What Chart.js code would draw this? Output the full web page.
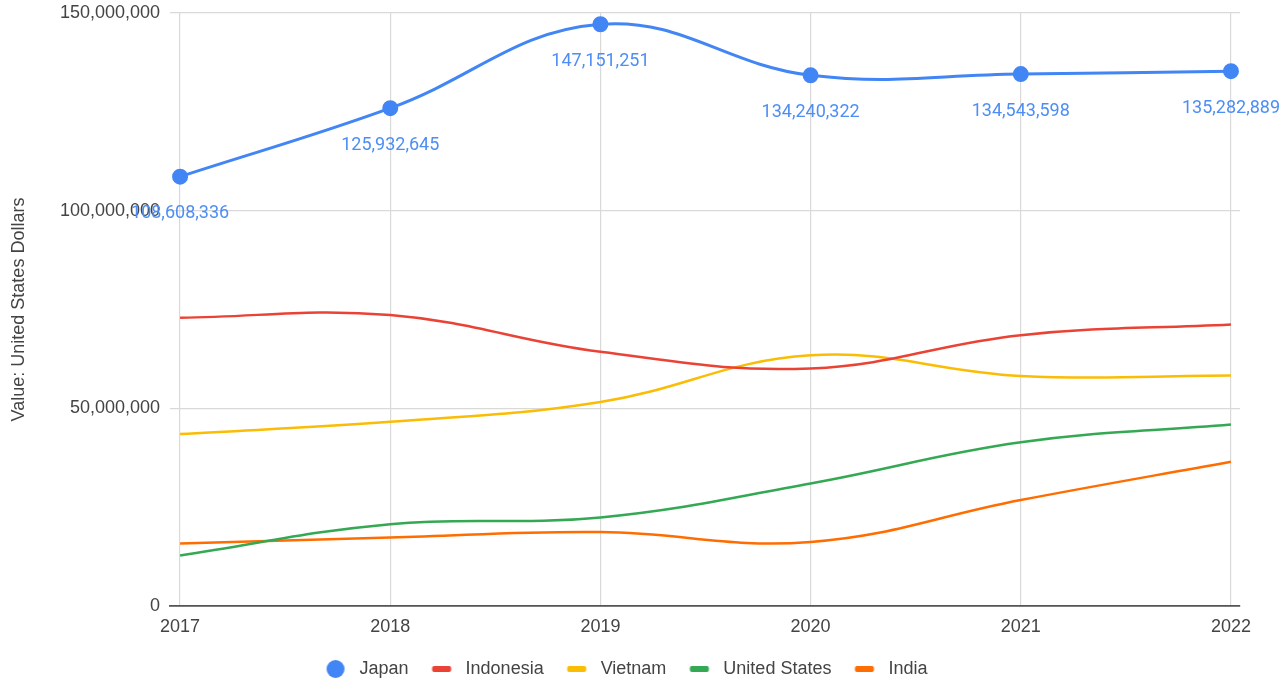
<!DOCTYPE html>
<html>
<head>
<meta charset="utf-8">
<script src="https://cdn.jsdelivr.net/npm/chart.js@4"></script>
<style>
html,body{margin:0;padding:0;background:#fff;}
#wrap{width:1285px;height:680px;}
</style>
</head>
<body>
<div id="wrap"><canvas id="c" width="1285" height="680"></canvas></div>
<script>
const years = [2017, 2018, 2019, 2020, 2021, 2022];
const seriesNames = ['Japan', 'Indonesia', 'Vietnam', 'United States', 'India'];
const japan = [108608336, 125932645, 147151251, 134240322, 134543598, 135282889];
const indonesia = [72900000, 73600000, 64300000, 60100000, 68500000, 71200000];
const vietnam = [43500000, 46600000, 51600000, 63400000, 58200000, 58300000];
const unitedStates = [12800000, 20700000, 22400000, 31000000, 41400000, 45900000];
const india = [15800000, 17300000, 18700000, 16200000, 26800000, 36500000];
const yTicks = [0, 50000000, 100000000, 150000000];
const colors = ['#4285F4', '#EA4335', '#FBBC04', '#34A853', '#FF6D01'];
const seriesValues = [japan, indonesia, vietnam, unitedStates, india];

const AXIS_FONT = "'Liberation Sans', Arial, sans-serif";
const fmt = v => Number(v).toLocaleString('en-US');

function markerCanvas(color, isCircle) {
  const W = 38, H = 20, c = document.createElement('canvas');
  c.width = W; c.height = H;
  const g = c.getContext('2d');
  g.fillStyle = color;
  const cx = 23;
  if (isCircle) {
    g.beginPath(); g.arc(cx, H / 2, 9, 0, Math.PI * 2); g.fill();
  } else {
    const w = 19, h = 6;
    g.beginPath();
    if (g.roundRect) g.roundRect(cx - w / 2, H / 2 - h / 2, w, h, 2); else g.rect(cx - w / 2, H / 2 - h / 2, w, h);
    g.fill();
  }
  return c;
}
const markers = colors.map((c, i) => markerCanvas(c, i === 0));

const datasets = seriesNames.map((name, i) => ({
  label: name,
  data: years.map((y, j) => ({x: y, y: seriesValues[i][j]})),
  borderColor: colors[i],
  backgroundColor: colors[i],
  borderWidth: i === 0 ? 3 : 2.5,
  pointRadius: i === 0 ? 6.5 : 0,
  pointHoverRadius: i === 0 ? 6.5 : 0,
  tension: 0.4,
  fill: false,
  order: i === 0 ? 0 : i
}));

const labelPlugin = {
  id: 'japanLabels',
  afterDatasetsDraw(chart) {
    const meta = chart.getDatasetMeta(0);
    const ctx = chart.ctx;
    ctx.save();
    ctx.font = "18px Roboto, 'Liberation Sans', sans-serif";
    ctx.fillStyle = '#4d8ef5';
    ctx.textAlign = 'center';
    ctx.textBaseline = 'middle';
    meta.data.forEach((pt, i) => {
      ctx.fillText(fmt(japan[i]), pt.x, pt.y + 37);
    });
    ctx.restore();
  }
};

const legendShift = {
  id: 'legendShift',
  afterLayout(chart) {
    if (chart.legend) { chart.legend.top += 8; chart.legend.bottom += 8; }
  }
};

new Chart(document.getElementById('c'), {
  type: 'line',
  data: { datasets },
  plugins: [labelPlugin, legendShift],
  options: {
    responsive: false,
    animation: false,
    layout: { padding: { top: 13, right: 45, left: 0, bottom: 0 } },
    font: { family: AXIS_FONT, size: 18 },
    color: '#444',
    plugins: {
      tooltip: { enabled: false },
      legend: {
        position: 'bottom',
        align: 'center',
        labels: {
          usePointStyle: true,
          pointStyleWidth: 38,
          padding: 10,
          color: '#444',
          font: { family: AXIS_FONT, size: 18 },
          generateLabels(chart) {
            return seriesNames.map((n, i) => ({
              text: n,
              pointStyle: markers[i],
              fillStyle: colors[i],
              strokeStyle: colors[i],
              lineWidth: 0,
              hidden: false,
              datasetIndex: i,
              fontColor: '#444'
            }));
          }
        }
      }
    },
    scales: {
      x: {
        type: 'linear',
        min: 2016.952,
        max: 2022.043,
        afterBuildTicks(scale) { scale.ticks = years.map(v => ({ value: v })); },
        afterFit(scale) { scale.height = 36; scale.paddingLeft = 0; scale.paddingRight = 0; },
        ticks: {
          autoSkip: false,
          maxRotation: 0,
          padding: 10,
          color: '#444',
          font: { family: AXIS_FONT, size: 18 },
          callback: v => String(v)
        },
        grid: { color: '#d9d9d9', lineWidth: 1.2, drawTicks: false },
        border: { display: true, color: '#555', width: 1.8 }
      },
      y: {
        min: 0,
        max: 150000000,
        afterBuildTicks(scale) { scale.ticks = yTicks.map(v => ({ value: v })); },
        afterFit(scale) { scale.width = 170; scale.paddingTop = 0; scale.paddingBottom = 0; },
        ticks: {
          padding: 10,
          color: '#444',
          font: { family: AXIS_FONT, size: 18 },
          callback: v => fmt(v)
        },
        grid: { color: '#d9d9d9', lineWidth: 1.2, drawTicks: false },
        border: { display: false },
        title: {
          display: true,
          text: 'Value: United States Dollars',
          color: '#444',
          font: { family: AXIS_FONT, size: 18 },
          padding: { top: 8, bottom: 0 }
        }
      }
    }
  }
});
</script>
</body>
</html>
